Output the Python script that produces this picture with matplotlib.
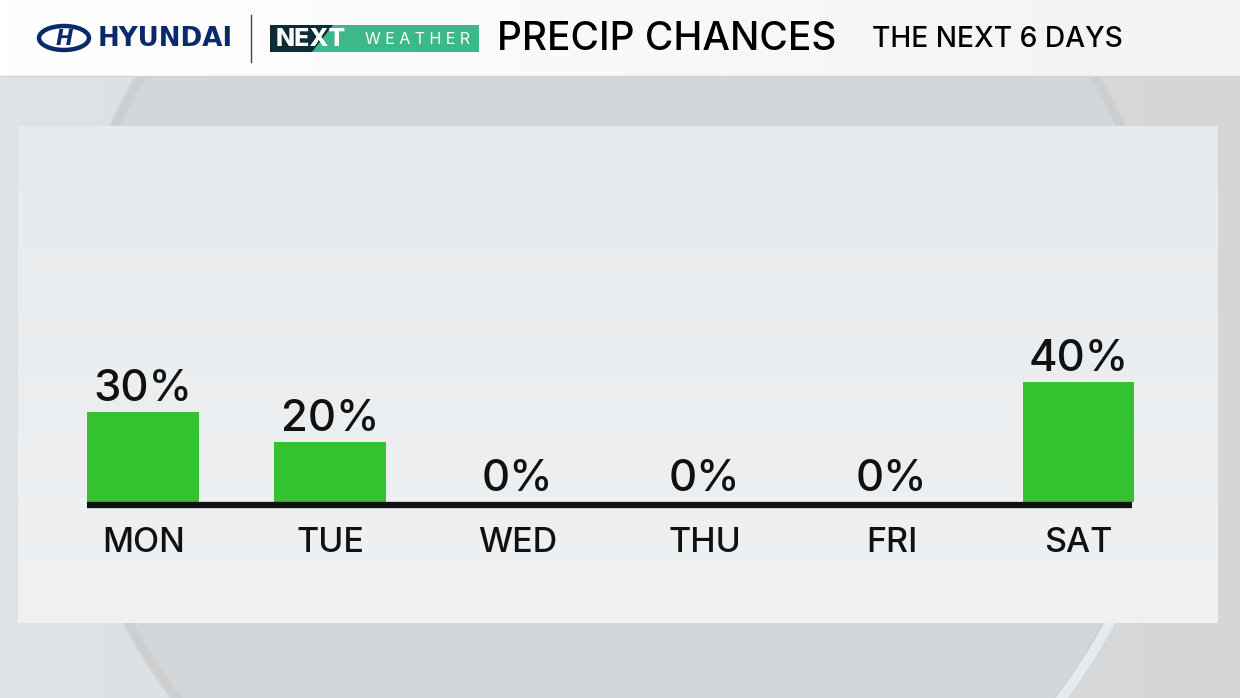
import numpy as np
import matplotlib
matplotlib.use("Agg")
import matplotlib.pyplot as plt
from matplotlib.patches import Rectangle, Ellipse, Circle, Polygon, Arc

# ---- data ----
days = ["MON", "TUE", "WED", "THU", "FRI", "SAT"]
precip_chance = [30, 20, 0, 0, 0, 40]
title = "PRECIP CHANCES"
subtitle = "THE NEXT 6 DAYS"

FONT = "Inter"
W, H = 1240, 698
fig = plt.figure(figsize=(W / 100, H / 100), dpi=100)

# ---- background layer in pixel coords ----
bg = fig.add_axes([0, 0, 1, 1])
bg.axis("off")

# horizontal gradient background
grad = np.linspace(0, 1, 256)[None, :]
c1 = np.array([0xdf, 0xe3, 0xe5]) / 255
c2 = np.array([0xd5, 0xd6, 0xd7]) / 255
img = (c1[None, None, :] * (1 - grad[..., None]) + c2[None, None, :] * grad[..., None])
bg.imshow(img, extent=(0, W, H, 0), aspect="auto", zorder=0)

# big sphere
cx, cy, r = 618, 361, 561
bg.add_patch(Circle((cx, cy), r, facecolor="#d3d6d8", edgecolor="none", zorder=1))
bg.add_patch(Circle((cx, cy), r - 6, facecolor="none", edgecolor="#c9cacb", lw=6, zorder=1, alpha=0.6))
bg.add_patch(Arc((cx, cy), 2 * r - 8, 2 * r - 8, theta1=20, theta2=75, color="#e3ebee", lw=7, zorder=1))

# header bar
hgrad = np.linspace(0, 1, 256)[None, :]
hc1 = np.array([1.0, 1.0, 1.0])
hc2 = np.array([0xf3, 0xf3, 0xf3]) / 255
himg = hc1[None, None, :] * (1 - hgrad[..., None]) + hc2[None, None, :] * hgrad[..., None]
bg.imshow(himg, extent=(0, W, 76, 0), aspect="auto", zorder=2)
bg.plot([0, W], [76, 76], color="#d2d4d6", lw=1, zorder=3)

# panel
pgrad = np.linspace(0, 1, 256)[:, None]
pc1 = np.array([0xe7, 0xea, 0xec]) / 255
pc2 = np.array([0xef, 0xf1, 0xf3]) / 255
pimg = pc1[None, None, :] * (1 - pgrad[..., None]) + pc2[None, None, :] * pgrad[..., None]
pimg = np.repeat(pimg, 4, axis=1)
bg.imshow(pimg, extent=(18, 1218, 623, 126), aspect="auto", zorder=3)
bg.set_xlim(0, W)
bg.set_ylim(H, 0)

# Hyundai logo
navy = "#0b2a6b"
bg.add_patch(Ellipse((64, 38), 50, 24, facecolor="white", edgecolor=navy, lw=3.2, zorder=4))
bg.text(64, 39, "H", color=navy, fontsize=15, fontweight="bold", style="italic",
        ha="center", va="center", family="DejaVu Sans", zorder=5)
bg.text(98, 38.5, "HYUNDAI", color=navy, fontsize=18.8, fontweight="bold",
        ha="left", va="center", family="DejaVu Sans", zorder=5)
bg.plot([251, 251], [15, 62], color="#444444", lw=1, zorder=4)

# NEXT WEATHER badge
bg.add_patch(Rectangle((270, 25), 209, 27, facecolor="#3cb88b", edgecolor="none", zorder=4))
bg.add_patch(Polygon([(270, 25), (333, 25), (312, 52), (270, 52)], closed=True,
                     facecolor="#0d2c36", edgecolor="none", zorder=5))
bg.text(276, 39, "NEXT", color="white", fontsize=18, fontweight="heavy",
        ha="left", va="center", family=FONT, zorder=6)
bg.text(365, 39.5, "W E A T H E R", color="white",
        fontsize=11.5, ha="left", va="center", family=FONT, zorder=6)

# titles
bg.text(497, 39.5, title, color="black", fontsize=28, fontweight="medium",
        ha="left", va="center", family=FONT, zorder=6)
bg.text(872, 39.5, subtitle, color="black", fontsize=20.3, fontweight="medium",
        ha="left", va="center", family=FONT, zorder=6)

# ---- bar chart axes ----
x0_px, unit_px = 143.2, 187.06
left_px, right_px = 87, 1134
zero_px, px_per = 501.5, 3.0
top_px = 126
xl = (left_px - x0_px) / unit_px
xr = (right_px - x0_px) / unit_px
ax = fig.add_axes([left_px / W, (H - zero_px) / H, (right_px - left_px) / W,
                   (zero_px - top_px) / H])
ax.set_xlim(xl, xr)
ax.set_ylim(0, (zero_px - top_px) / px_per)
ax.axis("off")
ax.patch.set_alpha(0)

x = np.arange(len(days))
ax.bar(x, precip_chance, width=111.7 / unit_px, color="#33c230", zorder=2)
ax.plot([xl, (1132 - x0_px) / unit_px], [-3.3 / px_per] * 2, color="#111111",
        lw=6.3 * 0.72, solid_capstyle="butt", clip_on=False, zorder=3)

for xi, v, d in zip(x, precip_chance, days):
    ax.annotate(f"{v}%", (xi, v), xytext=(0, 7.5), textcoords="offset points",
                ha="center", va="baseline", fontsize=31.5, fontweight="medium",
                family=FONT, color="#111111")
    ax.annotate(d, (xi, 0), xytext=(0, -50.5 * 0.72), textcoords="offset points",
                ha="center", va="baseline", fontsize=24.5, fontweight="medium",
                family=FONT, color="#111111", annotation_clip=False)

fig.savefig("out.png", dpi=100)
